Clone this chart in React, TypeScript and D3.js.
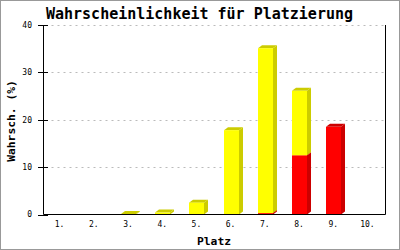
import React from "react";
import * as d3 from "d3";

const categories = ["1.", "2.", "3.", "4.", "5.", "6.", "7.", "8.", "9.", "10."];
const redValues = [0, 0, 0, 0, 0, 0, 0.3, 12.5, 18.5, 0];
const yellowValues = [0, 0, 0.1, 0.4, 2.5, 17.8, 34.8, 13.6, 0, 0];
const yTicks = [0, 10, 20, 30, 40];

const W = 400;
const H = 250;
const M = { left: 43.5, right: 385.5, top: 25, bottom: 214.5 };
const DX = 4;
const DY = 3;
const BAR_W = 15;

const seriesList = [
  { values: redValues, front: "#ff0000", dark: "#cc0000" },
  { values: yellowValues, front: "#ffff00", dark: "#cccc00" },
];

export default function App() {
  const x = d3.scaleBand<string>().domain(categories).range([M.left, M.right]);
  const y = d3.scaleLinear().domain([0, 40]).range([M.bottom, M.top]);
  const mono = "'DejaVu Sans Mono', 'Liberation Mono', monospace";

  const bars: React.ReactNode[] = [];
  categories.forEach((c, i) => {
    let base = 0;
    seriesList.forEach((s, si) => {
      const v = s.values[i];
      if (v <= 0) return;
      const y0 = y(base);
      const y1 = y(base + v);
      base += v;
      const cx = (x(c) as number) + x.bandwidth() / 2;
      const x0 = Math.round(cx - 8);
      const x1 = x0 + BAR_W;
      bars.push(
        <g key={`${i}-${si}`}>
          <polygon
            points={`${x1},${y0} ${x1 + DX},${y0 - DY} ${x1 + DX},${y1 - DY} ${x1},${y1}`}
            fill={s.dark}
          />
          <polygon
            points={`${x0},${y1} ${x1},${y1} ${x1 + DX},${y1 - DY} ${x0 + DX},${y1 - DY}`}
            fill={s.dark}
          />
          <rect x={x0} y={y1} width={BAR_W} height={Math.max(0, y0 - y1)} fill={s.front} />
        </g>
      );
    });
  });

  return (
    <svg width={W} height={H} style={{ position: "absolute", left: 0, top: 0, background: "#fff" }}>
      <rect x={0.5} y={0.5} width={W - 1} height={H - 1} fill="#fff" stroke="#999" strokeWidth={1} />
      {yTicks.filter((t) => t > 0).map((t) => (
        <line
          key={`g${t}`}
          x1={M.left + 2}
          x2={M.right}
          y1={Math.round(y(t)) + 0.5}
          y2={Math.round(y(t)) + 0.5}
          stroke="#bbbbbb"
          strokeDasharray="2,4"
        />
      ))}
      {bars}
      <line x1={M.left} x2={M.left} y1={M.top} y2={M.bottom} stroke="#000" />
      <line x1={M.right} x2={M.right} y1={M.top} y2={M.bottom} stroke="#000" />
      <line x1={M.left} x2={M.right} y1={M.bottom} y2={M.bottom} stroke="#000" />
      {yTicks.map((t) => (
        <g key={`t${t}`}>
          <line x1={38} x2={48} y1={Math.round(y(t)) + 0.5} y2={Math.round(y(t)) + 0.5} stroke="#000" />
          <text x={32} y={y(t)} dy="0.35em" textAnchor="end" fontFamily={mono} fontSize={8} fill="#000">
            {t}
          </text>
        </g>
      ))}
      {categories.map((c) => (
        <text
          key={`x${c}`}
          x={(x(c) as number) + x.bandwidth() / 2 - 1}
          y={227}
          textAnchor="middle"
          fontFamily={mono}
          fontSize={8}
          fill="#000"
        >
          {c}
        </text>
      ))}
      <text x={199.5} y={18.5} textAnchor="middle" fontFamily={mono} fontWeight="bold" fontSize={15} fill="#000">
        Wahrscheinlichkeit für Platzierung
      </text>
      <text x={214} y={245} textAnchor="middle" fontFamily={mono} fontWeight="bold" fontSize={11.3} fill="#000">
        Platz
      </text>
      <text
        transform={`translate(15,121) rotate(-90)`}
        textAnchor="middle"
        fontFamily={mono}
        fontWeight="bold"
        fontSize={11.3}
        fill="#000"
      >
        Wahrsch. (%)
      </text>
    </svg>
  );
}
